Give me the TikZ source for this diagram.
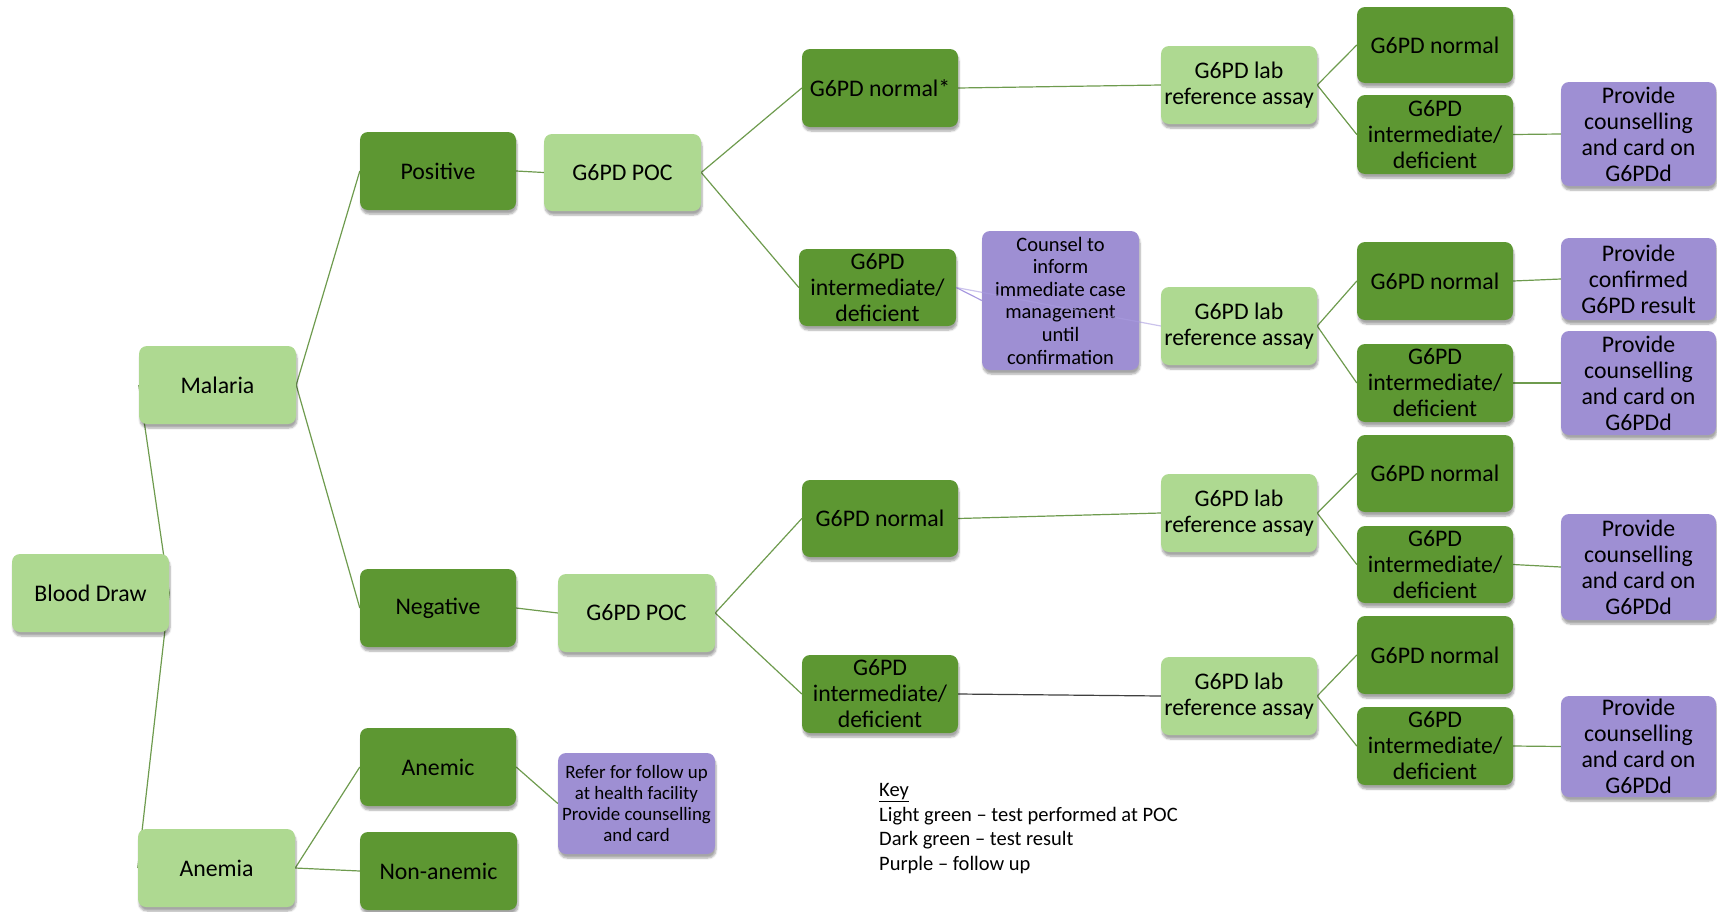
\documentclass[tikz,border=0pt]{standalone}
\usepackage{fontspec}
\setmainfont{Carlito}
\usetikzlibrary{shadows,shadows.blur}
\definecolor{lgreen}{HTML}{AED991}
\definecolor{dgreen}{HTML}{5D9732}
\definecolor{purp}{HTML}{9E8FD3}
\definecolor{edgegreen}{HTML}{6E9B4E}
\definecolor{edgepurp}{HTML}{A99BE0}
\definecolor{edgedark}{HTML}{404040}
\pgfdeclarelayer{bg}
\pgfsetlayers{bg,main}
\tikzset{
  box/.style={rectangle, rounded corners=8pt, draw=none, align=center, inner sep=1pt, text=black,
    blur shadow={shadow xshift=1pt, shadow yshift=-4pt, shadow blur steps=6, shadow opacity=35}},
  bigtext/.style={font=\fontsize{23.8}{26}\selectfont},
  light/.style={box, fill=lgreen, bigtext},
  dark/.style={box, fill=dgreen, bigtext},
  follow/.style={box, fill=purp, bigtext},
  conn/.style={draw=edgegreen, line width=1.2pt},
  pconn/.style={draw=edgepurp, line width=1.2pt},
  kconn/.style={draw=edgedark, line width=1.2pt}
}
\begin{document}
\begin{tikzpicture}[x=1pt,y=-1pt]
\useasboundingbox (0,0) rectangle (1717,911);
% column 1-2
\node[light, minimum width=157pt, minimum height=78pt] (blood) at (90.5,593) {Blood Draw};
\node[light, minimum width=157pt, minimum height=78pt] (malaria) at (217.5,385) {Malaria};
\node[light, minimum width=157pt, minimum height=78pt] (anemia) at (216.5,868) {Anemia};
% column 3
\node[dark, minimum width=156pt, minimum height=78pt] (positive) at (438,171) {Positive};
\node[dark, minimum width=156pt, minimum height=78pt] (negative) at (438,608) {Negative};
\node[dark, minimum width=156pt, minimum height=78pt] (anemic) at (438,767) {Anemic};
\node[dark, minimum width=157pt, minimum height=78pt] (nonanemic) at (438.5,871) {Non-anemic};
% column 4
\node[light, minimum width=157pt, minimum height=77pt] (poc1) at (622.5,172.5) {G6PD POC};
\node[light, minimum width=157pt, minimum height=78pt] (poc2) at (636.5,613) {G6PD POC};
\node[follow, minimum width=157pt, minimum height=101pt, font=\fontsize{18.9}{20.8}\selectfont] (refer) at (636.5,803.5) {Refer for follow up\\at health facility\\Provide counselling\\and card};
% column 5
\node[dark, minimum width=156pt, minimum height=78pt] (n1) at (880,88) {G6PD normal*};
\node[dark, minimum width=157pt, minimum height=77pt] (d1) at (877.5,287.5) {G6PD\\intermediate/\\deficient};
\node[dark, minimum width=156pt, minimum height=77pt] (n2) at (880,518.5) {G6PD normal};
\node[dark, minimum width=156pt, minimum height=78pt] (d2) at (880,694) {G6PD\\intermediate/\\deficient};
\node[follow, minimum width=157pt, minimum height=139pt, font=\fontsize{20.5}{22.6}\selectfont] (counsel) at (1060.5,300.5) {Counsel to\\inform\\immediate case\\management\\until\\confirmation};
% column 6
\node[light, minimum width=156pt, minimum height=78pt] (lab1) at (1239,85) {G6PD lab\\reference assay};
\node[light, minimum width=156pt, minimum height=78pt] (lab2) at (1239,326) {G6PD lab\\reference assay};
\node[light, minimum width=156pt, minimum height=78pt] (lab3) at (1239,513) {G6PD lab\\reference assay};
\node[light, minimum width=156pt, minimum height=78pt] (lab4) at (1239,696) {G6PD lab\\reference assay};
% column 7
\node[dark, minimum width=156pt, minimum height=76pt] (r1n) at (1435,45) {G6PD normal};
\node[dark, minimum width=156pt, minimum height=79pt] (r1d) at (1435,134.5) {G6PD\\intermediate/\\deficient};
\node[dark, minimum width=156pt, minimum height=78pt] (r2n) at (1435,281) {G6PD normal};
\node[dark, minimum width=156pt, minimum height=78pt] (r2d) at (1435,383) {G6PD\\intermediate/\\deficient};
\node[dark, minimum width=156pt, minimum height=77pt] (r3n) at (1435,473.5) {G6PD normal};
\node[dark, minimum width=156pt, minimum height=77pt] (r3d) at (1435,564.5) {G6PD\\intermediate/\\deficient};
\node[dark, minimum width=156pt, minimum height=78pt] (r4n) at (1435,655) {G6PD normal};
\node[dark, minimum width=156pt, minimum height=78pt] (r4d) at (1435,746) {G6PD\\intermediate/\\deficient};
% column 8
\node[follow, minimum width=155pt, minimum height=104pt] (p1) at (1638.5,134) {Provide\\counselling\\and card on\\G6PDd};
\node[follow, minimum width=155pt, minimum height=82pt] (p2) at (1638.5,279) {Provide\\confirmed\\G6PD result};
\node[follow, minimum width=155pt, minimum height=104pt] (p3) at (1638.5,383) {Provide\\counselling\\and card on\\G6PDd};
\node[follow, minimum width=155pt, minimum height=106pt] (p4) at (1638.5,567) {Provide\\counselling\\and card on\\G6PDd};
\node[follow, minimum width=155pt, minimum height=101pt] (p5) at (1638.5,746.5) {Provide\\counselling\\and card on\\G6PDd};
% key
\node[anchor=north west, align=left, inner sep=0pt, font=\fontsize{20.5}{24.8}\selectfont] (key) at (879,783) {\underline{Key}\\Light green -- test performed at POC\\Dark green -- test result\\Purple -- follow up};
% connectors
\begin{pgfonlayer}{bg}
\draw[conn] (blood.east) -- (malaria.west);
\draw[conn] (blood.east) -- (anemia.west);
\draw[conn] (malaria.east) -- (positive.west);
\draw[conn] (malaria.east) -- (negative.west);
\draw[conn] (anemia.east) -- (anemic.west);
\draw[conn] (anemia.east) -- (nonanemic.west);
\draw[conn] (anemic.east) -- (refer.west);
\draw[conn] (positive.east) -- (poc1.west);
\draw[conn] (negative.east) -- (poc2.west);
\draw[conn] (poc1.east) -- (n1.west);
\draw[conn] (poc1.east) -- (d1.west);
\draw[conn] (poc2.east) -- (n2.west);
\draw[conn] (poc2.east) -- (d2.west);
\draw[pconn] (d1.east) -- (counsel.west);
\draw[conn] (n1.east) -- (lab1.west);
\draw[conn] (n2.east) -- (lab3.west);
\draw[kconn] (d2.east) -- (lab4.west);
\foreach \l/\a/\b in {lab1/r1n/r1d, lab2/r2n/r2d, lab3/r3n/r3d, lab4/r4n/r4d}{
  \draw[conn] (\l.east) -- (\a.west);
  \draw[conn] (\l.east) -- (\b.west);
}
\draw[conn] (r1d.east) -- (p1.west);
\draw[conn] (r2n.east) -- (p2.west);
\draw[conn] (r2d.east) -- (p3.west);
\draw[conn] (r3d.east) -- (p4.west);
\draw[conn] (r4d.east) -- (p5.west);
\end{pgfonlayer}
\draw[pconn, draw opacity=0.6] (d1.east) -- (lab2.west);
\end{tikzpicture}
\end{document}
